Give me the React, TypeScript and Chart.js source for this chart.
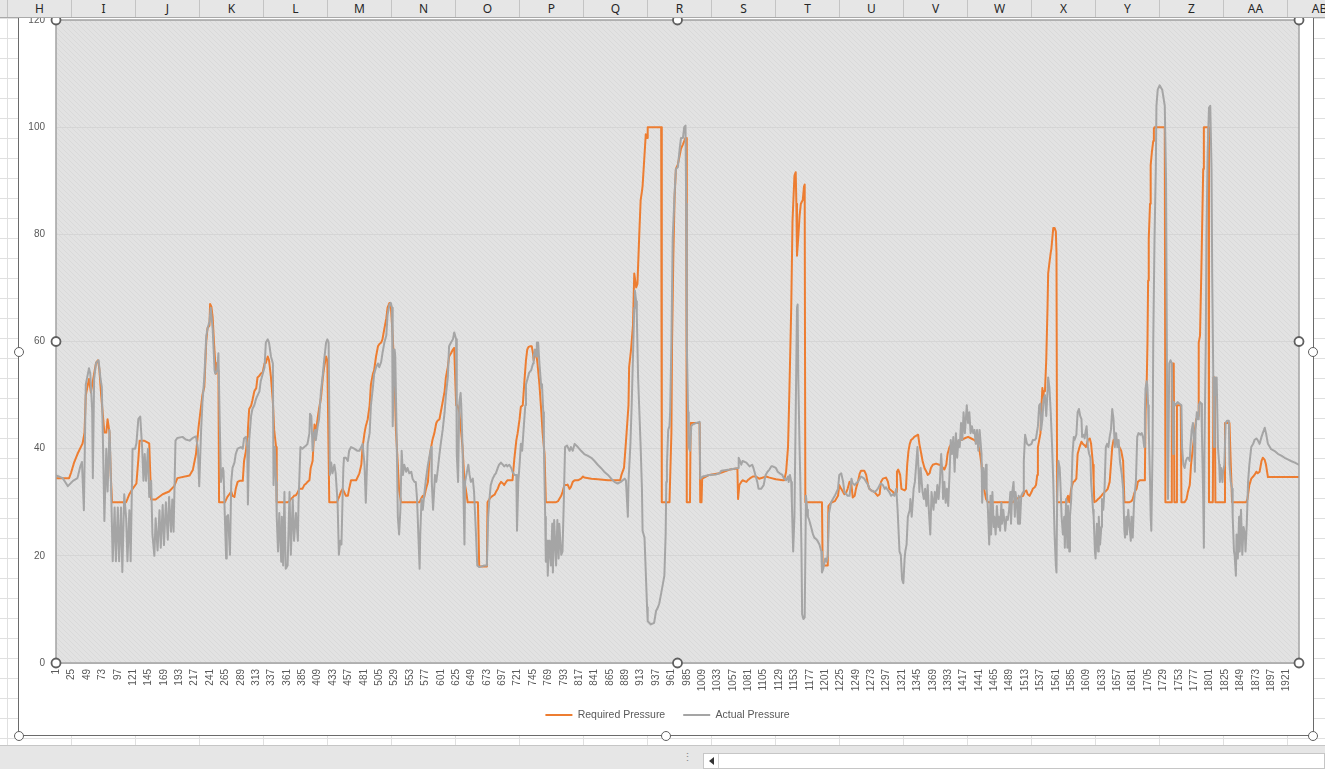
import React, { useEffect, useRef } from 'react';
import { Chart, registerables } from 'chart.js';

Chart.register(...registerables);

const columnLetters = ['H', 'I', 'J', 'K', 'L', 'M', 'N', 'O', 'P', 'Q', 'R', 'S', 'T', 'U', 'V', 'W', 'X', 'Y', 'Z', 'AA', 'AB'];

const seriesNames = ['Required Pressure', 'Actual Pressure'];

const xTickValues = [1, 25, 49, 73, 97, 121, 145, 169, 193, 217, 241, 265, 289, 313, 337, 361, 385, 409, 433, 457, 481, 505, 529, 553, 577, 601, 625, 649, 673, 697, 721, 745, 769, 793, 817, 841, 865, 889, 913, 937, 961, 985, 1009, 1033, 1057, 1081, 1105, 1129, 1153, 1177, 1201, 1225, 1249, 1273, 1297, 1321, 1345, 1369, 1393, 1417, 1441, 1465, 1489, 1513, 1537, 1561, 1585, 1609, 1633, 1657, 1681, 1705, 1729, 1753, 1777, 1801, 1825, 1849, 1873, 1897, 1921];

const yTickValues = [0, 20, 40, 60, 80, 100, 120];

const xRange = [0.5, 1940.5];

// [category, value]
const requiredPressure: [number, number][] = [
  [1, 34.5], [21, 34.5], [24, 35.5], [29, 37.5], [34, 39], [42, 41], [45, 43], [47, 50], [52, 53], [55, 50.5], [60, 54], [63, 56], [66, 56.5], [68, 55], [71, 50], [76, 43], [79, 43], [81, 45.5], [84, 43], [86, 35], [88, 30], [110, 30], [115, 31.5], [120, 32.5], [126, 33.5], [129, 38], [131, 41.5], [138, 41.5], [146, 41], [149, 30.5], [156, 30.5], [167, 31.5], [177, 32], [185, 33], [190, 34.5], [209, 35], [214, 36], [219, 39], [223, 44], [229, 50],
  [232, 51.5], [235, 60], [237, 62.5], [240, 63], [241, 67], [243, 66.5], [245, 64.5], [247, 60], [249, 56], [250, 54], [252, 56], [254, 54.5], [255, 30], [264, 30], [266, 30.5], [268, 31], [271, 31.5], [274, 32], [276, 31.2], [279, 31], [281, 32.5], [284, 33.8], [287, 34], [292, 34], [294, 37.7], [297, 39.6], [299, 42.2], [300, 43.5], [302, 47.4], [305, 48], [307, 49], [310, 50.7], [313, 51.3], [315, 53.3], [318, 53.6], [320, 54], [323, 54.2], [326, 55.9], [328, 56], [331, 57.2], [333, 56.5], [336, 53.3], [339, 48.7], [341, 43.5], [344, 40.3], [345, 30], [362, 30], [365, 30.2], [367, 30.6], [370, 30.9], [372, 31.2], [375, 31.3], [378, 31.9], [380, 32.5], [385, 32.5], [388, 33.2], [391, 33.5], [393, 33.8], [396, 34.1], [398, 36.4], [401, 37.7], [404, 44.5], [406, 43], [409, 45.8], [411, 47.4], [414, 49.4], [417, 53.3], [419, 55.2], [422, 57.2], [424, 56.5], [427, 30], [439, 30], [443, 31.2], [445, 31.9], [448, 32.5], [450, 31.9], [453, 31.2], [456, 31.2], [458, 32.5], [461, 34.1], [469, 34.1],
  [474, 35.4], [477, 37], [479, 40.3], [482, 42.9], [484, 44.2], [487, 45.5], [490, 48.1], [492, 52], [495, 53.9], [497, 54.6], [500, 57.2], [503, 59.1], [505, 59.5], [508, 59.8], [510, 60.4], [513, 62.4], [516, 64.3], [518, 66.3], [521, 67.2], [523, 66.9], [526, 61], [529, 53.3], [531, 43.5], [534, 37], [536, 32.2], [539, 30], [568, 30], [570, 30.6], [573, 31.2], [575, 30.9], [578, 32.5], [581, 33.8], [583, 37.7], [586, 40.3], [588, 41.6], [591, 42.9], [594, 44.8], [596, 45.2], [599, 45.5], [601, 46.8], [604, 48.7], [607, 50.7], [609, 53.3], [612, 55.2], [614, 57.2], [617, 57.8], [620, 58.5], [622, 58.8], [625, 48.1], [627, 48.1], [630, 46.8], [633, 42.9], [635, 40.3], [638, 33.8], [640, 32.5], [643, 30], [659, 30], [661, 18], [673, 18], [674, 30], [677, 30.6], [679, 30.9], [682, 31.2], [685, 31.4], [687, 31.9], [690, 32.5], [692, 33.2], [695, 33.8], [698, 33.5], [700, 33.2], [703, 33.8], [705, 34.1], [713, 34.1],
  [716, 38.3], [719, 41.6], [721, 42.9], [724, 45.5], [726, 47.8], [729, 48.1], [732, 53.3], [734, 56.5], [736, 58.5], [738, 59], [741, 59.1], [743, 59.1], [745, 57.8], [746, 56.5], [748, 57.5], [750, 57.8], [752, 55.9], [755, 52], [758, 46.8], [760, 42.9], [763, 39], [765, 30], [781, 30], [784, 30.2], [786, 30.6], [789, 31.2], [791, 31.9], [794, 33.2], [797, 33.2], [799, 33.3], [802, 32.5], [804, 32.8], [807, 33.8], [810, 34.1], [815, 34.1], [820, 34.4], [823, 34.8], [825, 34.6], [836, 34.4], [846, 34.3], [862, 34.1], [881, 34.1], [883, 35.1], [887, 36.4], [889, 39.6], [891, 42.9], [894, 48.1], [895, 55.2], [898, 58.5], [901, 63], [903, 72.7], [906, 70.1], [908, 70.8], [911, 80.5], [913, 86.4], [915, 88], [916, 89], [919, 94.8], [921, 98.7], [923, 98], [924, 100], [945, 100], [946, 30], [958, 30],
  [961, 43], [962, 59.8], [964, 76], [966, 87], [968, 92.2], [971, 93], [974, 94.8], [976, 96], [979, 96.8], [981, 97.4], [983, 98], [984, 98], [985, 30], [990, 30], [991, 44.8], [1005, 44.8], [1006, 30], [1008, 30], [1009, 34.4], [1020, 35.1], [1036, 35.4], [1052, 36.1], [1064, 36.3], [1065, 30.6], [1067, 33.2], [1070, 33.8], [1072, 34.1], [1078, 33.8], [1080, 34.1], [1083, 34.4], [1088, 34.8], [1093, 34.8], [1098, 34.4], [1109, 34.8], [1114, 34.6], [1124, 34.3], [1135, 34.1], [1137, 34.1], [1140, 35.7], [1143, 40.3], [1145, 50], [1148, 66.3], [1150, 82.5], [1153, 90.9], [1155, 91.6], [1156, 85.7], [1157, 76], [1159, 79.5], [1161, 83.4], [1163, 85.7], [1166, 86.4], [1168, 89], [1169, 89.3], [1170, 30], [1196, 30], [1197, 18.2],
  [1200, 18.2], [1205, 18.2], [1206, 29.3], [1210, 29.9], [1216, 30.2], [1218, 30.6], [1221, 31.2], [1223, 33.2], [1226, 32.5], [1229, 31.9], [1231, 31.5], [1234, 31.9], [1236, 32.5], [1239, 33.8], [1242, 33.2], [1244, 30.9], [1247, 31.2], [1249, 32.5], [1252, 33.8], [1255, 35.4], [1257, 35.9], [1262, 35.9], [1265, 35.1], [1268, 33.2], [1270, 32.5], [1273, 32.2], [1278, 31.9], [1283, 31.2], [1286, 31.5], [1288, 33.8], [1291, 34.4], [1296, 34.6], [1299, 33.8], [1301, 32.5], [1307, 31.9], [1309, 31.5], [1312, 31.9], [1313, 35.7], [1315, 36.1], [1318, 35.1], [1320, 32.5], [1325, 32.2], [1327, 32.5], [1329, 37], [1331, 39.6], [1333, 40.9], [1335, 41.6], [1338, 41.9], [1340, 42.2], [1346, 42.6], [1347, 42.6], [1348, 40.9], [1351, 39], [1353, 37.7], [1356, 36.4], [1359, 35.7], [1361, 35.1], [1364, 35.4], [1366, 36.4], [1369, 37], [1374, 37.2], [1379, 37], [1382, 36.8], [1385, 36.4], [1387, 36.1], [1390, 37], [1392, 39], [1395, 40.3], [1398, 40.9], [1400, 40.3], [1403, 40.9], [1408, 41.3], [1413, 41.6], [1418, 41.9], [1424, 42.2], [1429, 41.9], [1434, 41.6], [1439, 40.9],
  [1442, 39.6], [1445, 37], [1447, 33.8], [1450, 31.9], [1452, 30.6], [1455, 30], [1494, 30], [1499, 30.6], [1504, 30.9], [1510, 31.2], [1512, 31.9], [1515, 32.2], [1517, 31.5], [1520, 31.2], [1523, 31.9], [1525, 32.5], [1528, 32.8], [1530, 33.2], [1532, 35.1], [1533, 40.3], [1535, 41.6], [1537, 42.9], [1538, 46.8], [1540, 51.3], [1541, 49.4], [1542, 50.7], [1544, 50.7], [1546, 56.5], [1548, 66.3], [1549, 72.7], [1551, 74.7], [1553, 76.6], [1554, 77.3], [1556, 79.9], [1557, 81.2], [1559, 81.2], [1561, 80.5], [1562, 76.6], [1563, 30], [1577, 30], [1578, 30.6], [1580, 31.2], [1582, 30], [1585, 32.5], [1588, 33.8], [1590, 33.9], [1593, 34.4], [1595, 39], [1598, 40.3], [1601, 41.3], [1603, 40.9], [1606, 40.6], [1608, 40.3], [1611, 41.6], [1614, 41.9], [1616, 40.9], [1619, 37], [1620, 33.8], [1621, 30], [1624, 30.2], [1627, 30.6], [1629, 30.8], [1632, 31.2], [1634, 31.5], [1637, 31.9], [1640, 32.2], [1642, 32.5], [1645, 33.8], [1647, 37], [1649, 40.3], [1651, 41.6], [1655, 41.9], [1658, 40.9], [1660, 40.3], [1663, 39.6], [1666, 37.7], [1668, 30], [1676, 30], [1679, 30.2], [1681, 30.6],
  [1684, 31.9], [1687, 32.5], [1689, 33.8], [1692, 34.1], [1699, 34.1], [1700, 35.1], [1701, 46.8], [1703, 53.3], [1704, 59.8], [1705, 71.4], [1706, 79.2], [1708, 85.7], [1709, 92.9], [1711, 95.5], [1713, 97.4], [1714, 99.7], [1715, 100], [1731, 100], [1732, 30], [1741, 30], [1742, 55.9], [1745, 55.9], [1746, 30], [1749, 30], [1750, 48.1], [1756, 48.1], [1757, 30], [1762, 30], [1765, 30.6], [1767, 31.9], [1770, 33.2], [1772, 37], [1775, 40.3], [1778, 43.5], [1780, 45.5], [1783, 46.1], [1784, 59.8], [1786, 61.1], [1788, 72.7], [1790, 85.7], [1791, 92.2], [1792, 100], [1799, 100], [1800, 30], [1806, 30], [1807, 53.3], [1809, 53.3], [1810, 30], [1824, 30], [1825, 44.8], [1832, 44.8], [1834, 37], [1835, 33.8], [1836, 30], [1858, 30], [1860, 30.6], [1863, 33.2], [1866, 34.4], [1869, 34.8], [1871, 35.1], [1874, 35.7], [1876, 35.4], [1879, 35.7], [1882, 37.7], [1884, 38.3], [1887, 37.9], [1889, 37], [1892, 34.7], [1940, 34.7],
];

const actualPressure: [number, number][] = [
  [1, 35], [11, 34.5], [19, 33], [27, 34], [34, 34.5], [38, 36.5], [41, 37.5], [44, 28.5], [47, 52], [52, 55], [54, 54], [57, 47], [58, 34.5], [60, 53], [63, 56], [67, 56.5], [70, 53], [72, 51.5], [74, 40], [76, 26.5], [79, 40], [81, 32], [84, 43.5], [85, 40], [87, 30], [89, 19], [92, 29], [94, 19], [97, 29], [99, 19], [102, 29], [104, 17], [107, 31.5], [110, 27], [112, 19], [115, 28.5], [117, 19], [120, 40], [124, 40], [126, 41], [129, 45.5], [132, 46], [135, 40], [137, 34], [139, 39], [141, 34], [144, 40], [146, 31], [149, 34], [151, 24], [154, 20], [156, 27], [159, 21], [162, 28.5], [164, 21.5], [167, 29.5], [169, 22], [172, 30], [175, 23], [177, 31], [180, 24.5], [182, 30.5], [184, 24.5], [187, 41.5], [190, 42], [198, 42.2], [203, 41.7], [209, 41.5], [214, 42], [219, 42.3], [222, 40], [224, 33], [227, 43.5], [229, 48.5],
  [232, 53.3], [235, 61], [237, 62.4], [240, 63.7], [242, 66.3], [243, 65], [245, 62.4], [248, 54.6], [249, 54], [252, 54.6], [254, 57.8], [256, 45], [258, 33.8], [261, 36.4], [262, 35.7], [264, 27.3], [266, 19.5], [267, 27.3], [269, 27.6], [272, 20.2], [274, 33.8], [276, 36.4], [279, 37.4], [281, 39], [284, 40], [289, 40.3], [292, 40], [294, 41.9], [297, 42.2], [299, 40.3], [300, 29.6], [302, 41.6], [305, 46.1], [307, 47.4], [310, 48.1], [313, 49.4], [318, 50.7], [320, 52.6], [323, 53.9], [326, 55.2], [328, 59.8], [331, 60.4], [333, 59.8], [336, 57.2], [339, 55.9], [340, 33.2], [342, 40.3], [344, 33.8], [345, 27.3], [347, 20.8], [349, 28], [352, 18.9], [353, 27.3], [355, 18.2], [357, 31.9], [359, 17.6], [362, 18.2], [365, 31.9], [367, 20.2], [370, 30.6], [372, 22.8], [375, 28], [378, 22.8], [379, 29.9], [382, 40.3], [385, 40], [388, 40.3], [391, 40.6], [393, 40.9], [396, 42.9], [397, 46.5], [399, 46.1], [401, 39.6], [403, 42.9], [405, 43.5], [406, 41.6], [409, 44.2], [411, 45.5], [414, 50.7], [417, 53.9], [419, 56.5], [422, 59.8], [424, 60.4], [426, 59.8], [428, 35.1], [430, 37.4], [432, 35.4], [435, 37], [437, 35.4], [440, 29.9], [442, 20.2], [444, 22.8], [446, 22.1], [448, 31.9], [449, 36.4], [450, 38.3], [453, 38.3], [456, 37.7], [458, 39.6], [461, 40.3], [466, 40], [471, 39.6],
  [474, 39.6], [477, 40.3], [479, 40.9], [482, 37], [484, 29.9], [487, 40.9], [490, 42.9], [492, 48.1], [495, 51.3], [497, 53.9], [500, 55.2], [503, 55.9], [505, 55.2], [508, 56.2], [510, 57.8], [513, 59.8], [516, 61.1], [518, 65], [521, 66.9], [523, 67.2], [525, 66.3], [526, 44.2], [528, 53.3], [529, 58.5], [530, 57.2], [532, 43.5], [534, 27.3], [536, 24], [538, 28.6], [540, 39.6], [542, 35.1], [544, 37], [547, 35.7], [549, 36.4], [552, 35.4], [555, 35.7], [557, 34.4], [560, 33.8], [562, 33.8], [564, 30.6], [566, 24], [568, 17.6], [569, 24], [571, 30.6], [573, 28.6], [575, 31.2], [578, 34.4], [581, 37], [583, 38.3], [586, 40.3], [587, 33.8], [589, 28.6], [592, 35.1], [594, 33.8], [596, 35.7], [599, 39], [601, 40.9], [604, 43.5], [607, 46.8], [609, 50], [612, 53.3], [614, 59.1], [617, 59.8], [620, 60.4], [622, 61.7], [625, 60.4], [626, 39], [628, 33.8], [630, 48.7], [632, 50.4], [633, 48.1], [635, 40.3], [638, 22.1], [639, 33.8], [641, 35.1], [644, 37], [646, 35.1], [648, 33.8], [651, 34.4], [653, 31.9], [656, 24], [658, 18.2], [661, 17.9], [669, 18.2], [673, 18.2], [675, 27.3], [677, 30.6], [679, 33.2], [682, 34.4], [685, 35.1], [687, 35.4], [690, 36.4], [692, 37], [695, 37.4], [698, 37], [700, 36.7], [703, 37], [705, 36.7], [708, 37], [711, 36.4], [713, 35.7], [716, 35.1],
  [719, 35.1], [720, 24.7], [722, 33.8], [724, 37], [726, 40.9], [728, 39.6], [731, 44.8], [733, 48.1], [734, 52], [737, 53.3], [739, 54.2], [742, 54.6], [745, 55.9], [746, 57.2], [748, 58.5], [750, 57.2], [751, 59.8], [753, 59.8], [755, 55.9], [758, 51.3], [759, 52], [761, 46.8], [762, 40.3], [764, 27.3], [765, 18.9], [767, 22.8], [768, 16.3], [770, 22.8], [771, 21.5], [773, 18.2], [775, 26], [776, 16.9], [778, 26.7], [781, 18.2], [783, 26.7], [785, 19.5], [786, 26], [789, 20.2], [791, 20.8], [793, 29.9], [795, 40.3], [798, 40.6], [802, 39.6], [804, 40.3], [807, 39.6], [810, 40.9], [815, 40.3], [820, 39.6], [825, 39], [830, 38.7], [836, 38.3], [841, 37.7], [846, 37], [851, 36.4], [856, 35.7], [862, 35.1], [867, 34.4], [872, 33.8], [877, 33.5], [882, 33.8], [888, 34.4], [890, 34.1], [893, 27.3], [894, 33.8], [897, 40.9], [899, 48.1], [901, 57.2], [903, 66.3], [904, 69.5], [906, 67.5], [907, 65], [909, 53.3], [913, 40.3], [915, 32.5], [916, 24.7], [919, 23.4], [921, 16.9], [923, 10.4], [924, 7.8], [929, 7.2], [934, 7.5], [937, 9.7], [940, 10.4], [942, 11.1], [945, 13], [947, 14.3], [950, 16.3], [952, 24], [953, 33.8], [954, 37], [956, 43.5], [958, 44.2], [959, 46.8],
  [961, 59.8], [963, 79.2], [966, 87.7], [968, 92.2], [971, 92.5], [974, 96.1], [976, 98], [979, 98], [981, 100], [983, 100.3], [984, 85.7], [985, 59.8], [987, 46.8], [988, 40.3], [990, 39.6], [992, 44.2], [994, 44.5], [1000, 44.8], [1005, 45], [1006, 34.4], [1010, 34.8], [1020, 35.1], [1031, 35.2], [1036, 35.4], [1039, 35.9], [1052, 36.1], [1065, 36.4], [1066, 38.3], [1068, 37.7], [1070, 37], [1072, 37.7], [1078, 37.4], [1083, 36.7], [1087, 37], [1089, 36.4], [1092, 35.1], [1095, 33.8], [1097, 32.5], [1101, 32.5], [1105, 33.2], [1108, 35.1], [1111, 35.7], [1114, 36.1], [1117, 36.7], [1119, 36.7], [1124, 36.4], [1127, 35.7], [1130, 35.4], [1134, 35.1], [1137, 34.4], [1140, 34.1], [1143, 34.8], [1144, 33.8], [1146, 35.1], [1148, 33.8], [1149, 29.9], [1151, 20.8], [1153, 27.3], [1155, 46.8], [1157, 66.3], [1158, 66.9], [1159, 53.3], [1161, 40.3], [1162, 35.1], [1164, 20.8], [1165, 9.1], [1167, 8.2], [1169, 8.5], [1171, 31.2], [1173, 28.6], [1174, 27.3], [1176, 26.7], [1179, 25.4], [1182, 24], [1184, 23.4], [1187, 23.1], [1189, 22.8], [1192, 22.1], [1195, 20.8], [1196, 16.9], [1198, 17.6], [1201, 19.5], [1203, 18.9],
  [1205, 20], [1207, 28], [1210, 29.9], [1213, 30.6], [1216, 31.2], [1221, 32.5], [1223, 35.1], [1226, 35.4], [1229, 33.8], [1231, 31.9], [1234, 31.5], [1236, 31.2], [1239, 31.2], [1242, 34.4], [1244, 33.5], [1247, 33.2], [1249, 33.5], [1252, 33.8], [1255, 34.4], [1257, 34.8], [1262, 34.4], [1265, 33.8], [1268, 33.2], [1270, 32.5], [1273, 32.2], [1278, 31.9], [1281, 32.2], [1283, 32.5], [1286, 33.2], [1288, 33.5], [1291, 33.2], [1294, 32.5], [1296, 32.8], [1299, 32.2], [1301, 31.9], [1304, 31.2], [1307, 31.5], [1309, 31.2], [1312, 32.5], [1314, 28.6], [1317, 20.8], [1319, 20.2], [1321, 15.6], [1323, 14.9], [1325, 19.5], [1326, 20.8], [1328, 22.1], [1330, 27.3], [1333, 28.6], [1334, 30.6], [1336, 27.3], [1338, 30.6], [1339, 32.5], [1341, 33.8], [1343, 37], [1345, 40.3], [1347, 35.1], [1348, 31.9], [1350, 36.4], [1352, 33.2], [1353, 31.9], [1355, 30.6], [1357, 32.5], [1359, 29.3], [1361, 33.2], [1363, 28], [1365, 24], [1367, 31.9], [1370, 28.6], [1372, 31.9], [1374, 29.9], [1376, 33.2], [1378, 30.6], [1380, 33.8], [1382, 39], [1384, 35.1], [1385, 30.6], [1387, 33.8], [1389, 29.9], [1391, 32.5], [1393, 29.3], [1395, 35.1], [1397, 41.6], [1399, 39], [1401, 42.2], [1403, 35.7], [1405, 42.9], [1407, 38.3], [1409, 41.6], [1411, 40.3], [1413, 44.8], [1415, 41.6], [1417, 46.8], [1419, 42.9], [1422, 48.1], [1424, 44.8], [1426, 46.8], [1428, 42.9], [1430, 44.2], [1432, 42.9], [1434, 43.5], [1436, 40.9], [1438, 43.5], [1440, 39.6],
  [1442, 43.5], [1445, 39], [1446, 29.9], [1448, 36.4], [1450, 32.5], [1452, 37], [1453, 32.5], [1455, 28.6], [1457, 22.1], [1459, 31.2], [1460, 24], [1462, 31.9], [1464, 25.4], [1465, 27.3], [1467, 24], [1469, 29.3], [1471, 25.4], [1472, 27.3], [1474, 24.7], [1476, 29.9], [1477, 26], [1479, 28.6], [1482, 24.7], [1484, 27.3], [1486, 26.7], [1488, 28.6], [1490, 31.9], [1491, 26], [1493, 31.9], [1495, 33.8], [1497, 27.3], [1498, 31.9], [1500, 29.9], [1502, 26], [1503, 31.2], [1505, 26], [1507, 31.2], [1510, 31.9], [1511, 37.7], [1513, 42.6], [1516, 40.9], [1519, 40.6], [1523, 40.9], [1525, 41.6], [1528, 41.6], [1530, 41.9], [1533, 44.2], [1535, 48.1], [1537, 48.4], [1538, 43.5], [1540, 45.5], [1542, 49.4], [1544, 50], [1546, 46.1], [1548, 50.7], [1549, 53.3], [1551, 51.3], [1553, 46.8], [1555, 40.9], [1557, 33.8], [1559, 24], [1561, 18.2], [1562, 16.9], [1563, 30.6], [1565, 37.7], [1567, 36.4], [1568, 33.8], [1570, 27.3], [1572, 24], [1574, 27.3], [1575, 21.5], [1577, 30.6], [1579, 21.5], [1580, 29.3], [1582, 20.8], [1583, 27.3], [1585, 30.6], [1587, 39], [1589, 42.2], [1590, 41.6], [1593, 42.6], [1595, 46.8], [1597, 47.4], [1599, 46.1], [1601, 45.5], [1602, 42.2], [1604, 42.6], [1606, 41.9], [1607, 42.9], [1609, 44.2], [1611, 40.3], [1613, 39], [1615, 38.3], [1616, 33.8], [1619, 28.6], [1620, 27.3], [1622, 20.8], [1623, 19.5], [1625, 26], [1627, 20.8], [1628, 27.3], [1630, 22.1], [1632, 25.4], [1633, 30.6], [1635, 28.6], [1637, 32.5], [1639, 40.3], [1641, 40.9], [1643, 40.3], [1645, 42.2], [1647, 43.5], [1649, 47.4], [1651, 45.5], [1653, 40.3], [1655, 42.9], [1657, 40.3], [1659, 41.6], [1661, 37.7], [1664, 35.1], [1666, 32.5], [1668, 24.7], [1669, 23.4], [1671, 27.3], [1672, 24], [1674, 28.6], [1676, 25.4], [1678, 22.8], [1679, 27.3], [1681, 23.4],
  [1683, 30], [1686, 34], [1688, 42.2], [1690, 42.9], [1693, 42.6], [1695, 42.9], [1697, 42.2], [1699, 40.3], [1700, 46.8], [1701, 51.3], [1703, 52.6], [1704, 51.3], [1705, 48.1], [1706, 43.5], [1708, 33.8], [1709, 27.3], [1710, 24.7], [1712, 40.3], [1713, 59.8], [1715, 79.2], [1717, 92.2], [1718, 104], [1720, 107], [1723, 107.8], [1727, 107], [1731, 104], [1733, 90], [1735, 40], [1736, 30.6], [1738, 55.9], [1740, 56.5], [1742, 55.9], [1744, 39], [1745, 48.7], [1747, 48.1], [1751, 48.7], [1754, 48.4], [1757, 48.1], [1758, 40.3], [1760, 37], [1762, 36.4], [1764, 37.7], [1766, 38.3], [1768, 38.3], [1770, 37.7], [1771, 40.3], [1773, 43.5], [1775, 44.8], [1777, 40.3], [1778, 35.7], [1779, 43.5], [1781, 46.8], [1783, 45.5], [1784, 48.1], [1786, 48.7], [1788, 48.4], [1789, 42.9], [1791, 30.6], [1792, 21.5], [1793, 40.3], [1795, 59.8], [1796, 79.2], [1798, 95.5], [1800, 103.6], [1802, 104], [1804, 92.2], [1805, 72.7], [1807, 50], [1808, 40.3], [1809, 53.3], [1810, 50], [1812, 53.3], [1814, 40.3], [1816, 37], [1817, 33.8], [1819, 36.4], [1821, 33.8], [1822, 35.7], [1824, 37], [1826, 44.8], [1828, 45.2], [1831, 45.2], [1832, 37], [1834, 33.8], [1836, 32.5], [1837, 27.3], [1839, 20.8], [1840, 20.2], [1842, 16.3], [1843, 24], [1845, 19.5], [1847, 27.3], [1848, 20.8], [1850, 28.6], [1852, 20.2], [1854, 25.4], [1856, 24], [1857, 20.8], [1859, 26], [1861, 33.8], [1863, 37], [1866, 40.3], [1869, 40.9], [1871, 41.6], [1874, 41.9], [1876, 41.6], [1879, 40.9], [1882, 42.2], [1884, 42.9], [1887, 43.9], [1889, 42.9], [1892, 40.9], [1895, 40.3], [1897, 39.9], [1902, 39.6], [1908, 39], [1913, 38.7], [1918, 38.3], [1923, 38], [1928, 37.7], [1934, 37.4], [1940, 37],
];

const FONT = '"Liberation Sans", Arial, sans-serif';
const UI_FONT = '"Noto Sans", "Open Sans", sans-serif';

function makePattern(ctx: CanvasRenderingContext2D) {
  const c = document.createElement('canvas');
  c.width = 5;
  c.height = 5;
  const p = c.getContext('2d') as CanvasRenderingContext2D;
  p.fillStyle = '#e2e2e2';
  p.fillRect(0, 0, 5, 5);
  p.strokeStyle = '#d9d9d9';
  p.lineWidth = 1;
  p.beginPath();
  p.moveTo(-1, -1);
  p.lineTo(6, 6);
  p.moveTo(-1, 4);
  p.lineTo(1, 6);
  p.moveTo(4, -1);
  p.lineTo(6, 1);
  p.stroke();
  return ctx.createPattern(c, 'repeat');
}

const plotAreaPlugin = {
  id: 'plotAreaDecor',
  beforeDraw(chart: any) {
    const { ctx, chartArea: a } = chart;
    ctx.save();
    ctx.fillStyle = makePattern(ctx) || '#e1e1e1';
    ctx.fillRect(a.left, a.top, a.right - a.left, a.bottom - a.top);
    ctx.restore();
  },
  afterDraw(chart: any) {
    const { ctx, chartArea: a } = chart;
    ctx.save();
    ctx.strokeStyle = '#a3a3a3';
    ctx.lineWidth = 1.5;
    ctx.strokeRect(a.left, a.top, a.right - a.left, a.bottom - a.top);
    const mx = (a.left + a.right) / 2;
    const my = (a.top + a.bottom) / 2;
    const pts = [
      [a.left, a.top], [mx, a.top], [a.right, a.top],
      [a.left, my], [a.right, my],
      [a.left, a.bottom], [mx, a.bottom], [a.right, a.bottom],
    ];
    for (const [x, y] of pts) {
      ctx.beginPath();
      ctx.arc(x, y, 4.5, 0, Math.PI * 2);
      ctx.fillStyle = '#ffffff';
      ctx.fill();
      ctx.lineWidth = 1.8;
      ctx.strokeStyle = '#5f5f5f';
      ctx.stroke();
    }
    ctx.restore();
  },
};

function Handle({ cx, cy }: { cx: number; cy: number }) {
  return (
    <div
      style={{
        position: 'absolute',
        left: cx - 5,
        top: cy - 5,
        width: 10,
        height: 10,
        boxSizing: 'border-box',
        borderRadius: '50%',
        border: '1.8px solid #5f5f5f',
        background: '#ffffff',
        zIndex: 4,
      }}
    />
  );
}

export default function App() {
  const canvasRef = useRef<HTMLCanvasElement | null>(null);

  useEffect(() => {
    const canvas = canvasRef.current;
    if (!canvas) return;
    const chart = new Chart(canvas, {
      type: 'line',
      data: {
        datasets: [
          {
            label: seriesNames[0],
            data: requiredPressure.map(([x, y]) => ({ x, y })),
            borderColor: '#ED7D31',
            backgroundColor: '#ED7D31',
            borderWidth: 2,
            pointRadius: 0,
            pointHoverRadius: 0,
            pointStyle: 'line',
            tension: 0,
            borderJoinStyle: 'round',
            borderCapStyle: 'round',
            fill: false,
            order: 1,
          },
          {
            label: seriesNames[1],
            data: actualPressure.map(([x, y]) => ({ x, y })),
            borderColor: '#A5A5A5',
            backgroundColor: '#A5A5A5',
            borderWidth: 2,
            pointRadius: 0,
            pointHoverRadius: 0,
            pointStyle: 'line',
            tension: 0,
            borderJoinStyle: 'round',
            borderCapStyle: 'round',
            fill: false,
            order: 0,
          },
        ],
      },
      options: {
        responsive: false,
        maintainAspectRatio: false,
        devicePixelRatio: 1,
        animation: false,
        events: [],
        layout: { padding: { left: 5, right: 1, top: 20, bottom: 5.75 } },
        scales: {
          x: {
            type: 'linear',
            min: xRange[0],
            max: xRange[1],
            afterBuildTicks: (scale: any) => {
              scale.ticks = xTickValues.map((v) => ({ value: v }));
            },
            afterFit: (scale: any) => {
              scale.height = 28.75;
            },
            ticks: {
              autoSkip: false,
              maxRotation: 90,
              minRotation: 90,
              padding: 6,
              color: '#595959',
              font: { size: 10, family: FONT },
              callback: (v: any) => String(v),
            },
            grid: { display: false, drawTicks: false },
            border: { display: false },
          },
          y: {
            type: 'linear',
            position: 'left',
            min: 0,
            max: 120,
            afterBuildTicks: (scale: any) => {
              scale.ticks = yTickValues.map((v) => ({ value: v }));
            },
            afterFit: (scale: any) => {
              scale.width = 32;
            },
            ticks: {
              padding: 11,
              color: '#595959',
              font: { size: 10, family: FONT },
              callback: (v: any) => String(v),
            },
            grid: { color: '#d5d5d5', lineWidth: 1, drawTicks: false },
            border: { display: false },
          },
          yRightSpacer: {
            type: 'linear',
            position: 'right',
            min: 0,
            max: 120,
            afterFit: (scale: any) => {
              scale.width = 12;
            },
            ticks: { display: false },
            grid: { display: false, drawTicks: false },
            border: { display: false },
          },
        },
        plugins: {
          tooltip: { enabled: false },
          legend: {
            display: true,
            position: 'bottom',
            labels: {
              usePointStyle: true,
              pointStyle: 'line',
              pointStyleWidth: 27,
              padding: 18,
              color: '#595959',
              font: { size: 10.5, family: FONT },
              sort: (a: any, b: any) => a.datasetIndex - b.datasetIndex,
            },
          },
        },
      } as any,
      plugins: [plotAreaPlugin],
    });
    return () => chart.destroy();
  }, []);

  return (
    <div
      style={{
        position: 'absolute',
        left: 0,
        top: 0,
        width: 1325,
        height: 769,
        overflow: 'hidden',
        background: '#ffffff',
        fontFamily: UI_FONT,
      }}
    >
      {/* spreadsheet grid */}
      <div
        style={{
          position: 'absolute',
          left: 0,
          top: 18,
          width: 1325,
          height: 727,
          backgroundImage:
            'linear-gradient(to bottom, #e0e0e0 0px, #e0e0e0 1px, transparent 1px), linear-gradient(to right, #e0e0e0 0px, #e0e0e0 1px, transparent 1px)',
          backgroundSize: '100% 20px, 64px 100%',
          backgroundPosition: '0 0, 7px 0',
        }}
      />

      {/* chart object */}
      <div
        style={{
          position: 'absolute',
          left: 18,
          top: -10,
          width: 1296,
          height: 746,
          boxSizing: 'border-box',
          background: '#ffffff',
          border: '1px solid #6a6a6a',
          zIndex: 1,
        }}
      />
      <canvas
        ref={canvasRef}
        width={1293}
        height={736}
        style={{ position: 'absolute', left: 19, top: 0, width: 1293, height: 736, zIndex: 2 }}
      />
      <Handle cx={18.5} cy={352} />
      <Handle cx={18.5} cy={735.5} />
      <Handle cx={666} cy={735.5} />
      <Handle cx={1313} cy={735.5} />
      <Handle cx={1313} cy={352} />

      {/* column header */}
      <div
        style={{
          position: 'absolute',
          left: 0,
          top: 0,
          width: 1325,
          height: 18,
          boxSizing: 'border-box',
          background: '#e6e6e6',
          borderBottom: '1px solid #a9a9a9',
          zIndex: 6,
        }}
      >
        {columnLetters.map((letter, i) => (
          <div
            key={letter}
            style={{
              position: 'absolute',
              left: 7 + 64 * i,
              top: 0,
              width: 64,
              height: 17,
              boxSizing: 'border-box',
              borderLeft: '1px solid #c4c4c4',
              textAlign: 'center',
              fontSize: 12,
              lineHeight: '17px',
              color: '#262626',
            }}
          >
            {letter}
          </div>
        ))}
      </div>

      {/* bottom bar */}
      <div
        style={{
          position: 'absolute',
          left: 0,
          top: 745,
          width: 1325,
          height: 24,
          boxSizing: 'border-box',
          background: '#e6e6e6',
          borderTop: '1px solid #c6c6c6',
          zIndex: 6,
        }}
      >
        <div
          style={{
            position: 'absolute',
            left: 682,
            top: 5,
            fontSize: 11,
            lineHeight: '12px',
            color: '#8a8a8a',
          }}
        >
          ⋮
        </div>
        <div
          style={{
            position: 'absolute',
            left: 703,
            top: 7,
            width: 622,
            height: 16,
            boxSizing: 'border-box',
            background: '#ffffff',
            border: '1px solid #c6c6c6',
          }}
        >
          <div
            style={{
              position: 'absolute',
              left: 0,
              top: 0,
              width: 15,
              height: 14,
              boxSizing: 'border-box',
              borderRight: '1px solid #d4d4d4',
            }}
          >
            <div
              style={{
                position: 'absolute',
                left: 5,
                top: 3,
                width: 0,
                height: 0,
                borderTop: '4px solid transparent',
                borderBottom: '4px solid transparent',
                borderRight: '5px solid #333333',
              }}
            />
          </div>
        </div>
      </div>
    </div>
  );
}
